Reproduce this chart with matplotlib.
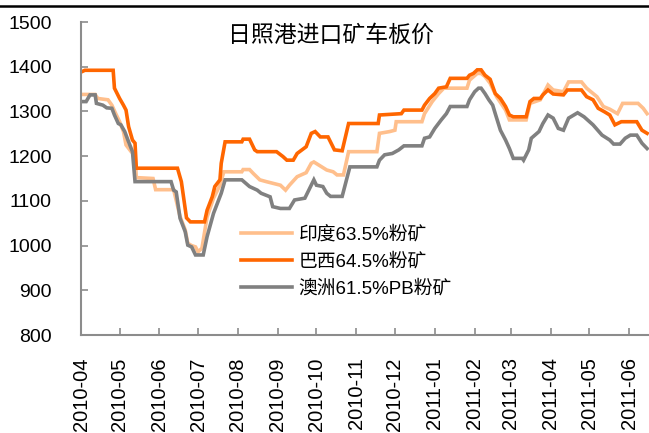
import matplotlib
matplotlib.use("Agg")
import matplotlib.pyplot as plt
import matplotlib.dates as mdates
from matplotlib.lines import Line2D
import pandas as pd

plt.rcParams['font.family'] = ['Liberation Sans', 'Noto Sans CJK SC', 'DejaVu Sans']

title = "日照港进口矿车板价"
labels = ["印度63.5%粉矿", "巴西64.5%粉矿", "澳洲61.5%PB粉矿"]
colors = ["#FFBF8C", "#FF6600", "#808080"]

# India 63.5%
india_dates = ["2010-04-01", "2010-04-12", "2010-04-14", "2010-04-22", "2010-04-25", "2010-04-28",
               "2010-05-01", "2010-05-04", "2010-05-06", "2010-05-10", "2010-05-13", "2010-05-14",
               "2010-05-27", "2010-05-29", "2010-06-12", "2010-06-13", "2010-06-17", "2010-06-21",
               "2010-06-23", "2010-06-26", "2010-06-29", "2010-07-01", "2010-07-04", "2010-07-08",
               "2010-07-13", "2010-07-18", "2010-07-21", "2010-08-04", "2010-08-05", "2010-08-10",
               "2010-08-13", "2010-08-18", "2010-08-23", "2010-09-03", "2010-09-07", "2010-09-10",
               "2010-09-16", "2010-09-23", "2010-09-27", "2010-09-29", "2010-10-04", "2010-10-09",
               "2010-10-14", "2010-10-17", "2010-10-22", "2010-10-26", "2010-11-17", "2010-11-19",
               "2010-11-27", "2010-12-01", "2010-12-02", "2010-12-22", "2010-12-24", "2010-12-30",
               "2011-01-04", "2011-01-08", "2011-01-26", "2011-01-28", "2011-02-03", "2011-02-06",
               "2011-02-09", "2011-02-13", "2011-02-18", "2011-02-25", "2011-02-28", "2011-03-13",
               "2011-03-16", "2011-03-24", "2011-03-30", "2011-04-03", "2011-04-11", "2011-04-15",
               "2011-04-25", "2011-04-29", "2011-05-07", "2011-05-12", "2011-05-17", "2011-05-23",
               "2011-05-27", "2011-06-08", "2011-06-12", "2011-06-15"]
india_vals = [1338, 1338, 1329, 1326, 1314, 1295,
              1277, 1255, 1225, 1210, 1202, 1152,
              1150, 1125, 1125, 1113, 1065, 1035,
              1005, 1000, 997, 986, 994, 1064,
              1106, 1135, 1165, 1165, 1170, 1170,
              1161, 1147, 1143, 1135, 1124, 1135,
              1154, 1163, 1184, 1187, 1178, 1169,
              1165, 1158, 1158, 1210, 1210, 1251,
              1255, 1258, 1277, 1277, 1295, 1322,
              1340, 1352, 1352, 1370, 1385, 1385,
              1378, 1363, 1333, 1303, 1281, 1281,
              1318, 1326, 1359, 1348, 1344, 1366,
              1366, 1352, 1333, 1311, 1305, 1295,
              1318, 1318, 1307, 1295]

# Brazil 64.5%
brazil_dates = ["2010-04-01", "2010-04-04", "2010-04-26", "2010-04-27", "2010-05-01", "2010-05-04",
                "2010-05-06", "2010-05-08", "2010-05-11", "2010-05-13", "2010-05-14", "2010-06-15",
                "2010-06-18", "2010-06-22", "2010-06-25", "2010-07-06", "2010-07-08", "2010-07-12",
                "2010-07-14", "2010-07-18", "2010-07-19", "2010-07-22", "2010-08-04", "2010-08-05",
                "2010-08-10", "2010-08-14", "2010-08-16", "2010-08-31", "2010-09-05", "2010-09-08",
                "2010-09-13", "2010-09-16", "2010-09-23", "2010-09-27", "2010-09-30", "2010-10-04",
                "2010-10-10", "2010-10-15", "2010-10-21", "2010-10-26", "2010-11-18", "2010-11-19",
                "2010-12-06", "2010-12-08", "2010-12-22", "2010-12-24", "2010-12-28", "2011-01-01",
                "2011-01-04", "2011-01-10", "2011-01-13", "2011-01-26", "2011-01-28", "2011-01-31",
                "2011-02-03", "2011-02-06", "2011-02-09", "2011-02-13", "2011-02-17", "2011-02-21",
                "2011-02-25", "2011-02-28", "2011-03-03", "2011-03-13", "2011-03-16", "2011-03-19",
                "2011-03-24", "2011-03-26", "2011-03-30", "2011-04-03", "2011-04-11", "2011-04-14",
                "2011-04-25", "2011-04-29", "2011-05-04", "2011-05-08", "2011-05-13", "2011-05-17",
                "2011-05-21", "2011-05-26", "2011-06-07", "2011-06-11", "2011-06-15"]
brazil_vals = [1388, 1392, 1392, 1352, 1329, 1314,
               1303, 1266, 1236, 1229, 1173, 1173,
               1143, 1062, 1053, 1053, 1079, 1109,
               1132, 1147, 1184, 1232, 1232, 1238,
               1238, 1214, 1210, 1210, 1199, 1191,
               1191, 1206, 1221, 1251, 1255, 1243,
               1243, 1214, 1212, 1273, 1273, 1292,
               1295, 1303, 1303, 1314, 1329, 1340,
               1352, 1355, 1374, 1374, 1381, 1385,
               1393, 1393, 1381, 1372, 1340, 1329,
               1311, 1292, 1288, 1288, 1322, 1329,
               1329, 1337, 1348, 1339, 1337, 1348,
               1348, 1333, 1326, 1307, 1299, 1292,
               1270, 1277, 1277, 1258, 1251]

# Australia 61.5% PB
aus_dates = ["2010-04-01", "2010-04-05", "2010-04-08", "2010-04-12", "2010-04-13", "2010-04-18",
             "2010-04-21", "2010-04-25", "2010-04-27", "2010-04-30", "2010-05-02", "2010-05-05",
             "2010-05-08", "2010-05-11", "2010-05-13", "2010-06-10", "2010-06-12", "2010-06-14",
             "2010-06-17", "2010-06-21", "2010-06-23", "2010-06-26", "2010-06-29", "2010-07-05",
             "2010-07-08", "2010-07-13", "2010-07-17", "2010-07-19", "2010-07-22", "2010-08-04",
             "2010-08-10", "2010-08-16", "2010-08-19", "2010-08-26", "2010-08-28", "2010-09-03",
             "2010-09-10", "2010-09-14", "2010-09-22", "2010-09-29", "2010-10-01", "2010-10-06",
             "2010-10-09", "2010-10-12", "2010-10-21", "2010-10-27", "2010-11-17", "2010-11-19",
             "2010-11-23", "2010-11-29", "2010-12-04", "2010-12-08", "2010-12-22", "2010-12-24",
             "2010-12-28", "2011-01-01", "2011-01-06", "2011-01-10", "2011-01-13", "2011-01-26",
             "2011-01-28", "2011-02-01", "2011-02-04", "2011-02-06", "2011-02-09", "2011-02-12",
             "2011-02-15", "2011-02-17", "2011-02-21", "2011-02-25", "2011-02-28", "2011-03-03",
             "2011-03-10", "2011-03-11", "2011-03-15", "2011-03-17", "2011-03-23", "2011-03-26",
             "2011-03-30", "2011-04-03", "2011-04-07", "2011-04-11", "2011-04-15", "2011-04-22",
             "2011-04-27", "2011-05-04", "2011-05-11", "2011-05-17", "2011-05-20", "2011-05-25",
             "2011-05-29", "2011-06-02", "2011-06-07", "2011-06-11", "2011-06-15"]
aus_vals = [1322, 1322, 1337, 1337, 1318, 1314,
            1308, 1307, 1292, 1273, 1270, 1255,
            1232, 1210, 1143, 1143, 1124, 1120,
            1061, 1031, 1001, 997, 979, 979,
            1020, 1072, 1102, 1117, 1147, 1147,
            1132, 1124, 1117, 1109, 1087, 1083,
            1083, 1102, 1106, 1147, 1135, 1132,
            1117, 1110, 1110, 1176, 1176, 1191,
            1203, 1206, 1214, 1223, 1223, 1240,
            1243, 1262, 1281, 1295, 1311, 1311,
            1326, 1344, 1352, 1352, 1340, 1326,
            1314, 1295, 1258, 1236, 1217, 1195,
            1195, 1191, 1214, 1240, 1255, 1273,
            1292, 1285, 1262, 1258, 1285, 1297,
            1288, 1270, 1247, 1236, 1227, 1227,
            1240, 1247, 1247, 1229, 1217]

tick_months = pd.date_range("2010-04-01", "2011-06-01", freq="MS")

fig = plt.figure(figsize=(6.49, 4.33), dpi=100)
ax = fig.add_axes([81 / 649, 1 - 335 / 433, 1 - 81 / 649, (335 - 22) / 433])

series = [(india_dates, india_vals), (brazil_dates, brazil_vals), (aus_dates, aus_vals)]
for (d, v), lab, col in zip(series, labels, colors):
    ax.plot(pd.to_datetime(d), v, color=col, lw=2.6, label=lab, solid_joinstyle="miter")

ax.set_ylim(800, 1500)
ax.set_yticks(range(800, 1501, 100))
ax.set_xlim(pd.Timestamp("2010-04-01"), pd.Timestamp("2011-06-16 12:00"))
ax.set_xticks(tick_months)
ax.xaxis.set_major_formatter(mdates.DateFormatter("%Y-%m"))

for s in ["top", "right"]:
    ax.spines[s].set_visible(False)
for s in ["left", "bottom"]:
    ax.spines[s].set_color("#8c8c8c")
    ax.spines[s].set_linewidth(1.5)
ax.tick_params(axis="both", direction="in", color="#8c8c8c", width=1.2, length=5, labelsize=14)
ax.tick_params(axis="y", pad=21)
ax.tick_params(axis="x", pad=16, labelrotation=90, labelsize=14.5)

ax.text(0.44, 0.958, title, transform=ax.transAxes, ha="center", va="center",
        fontsize=16.5, family=["Noto Sans CJK SC"])

ax.legend(loc="upper left", bbox_to_anchor=(0.282, 0.35), frameon=False, fontsize=13.5,
          handlelength=2.7, handletextpad=0.35, labelspacing=0.5, borderpad=0, borderaxespad=0)

fig.add_artist(Line2D([0, 1], [1 - 6 / 433, 1 - 6 / 433], color="black", lw=1.8))

fig.savefig("out.png", dpi=100)
